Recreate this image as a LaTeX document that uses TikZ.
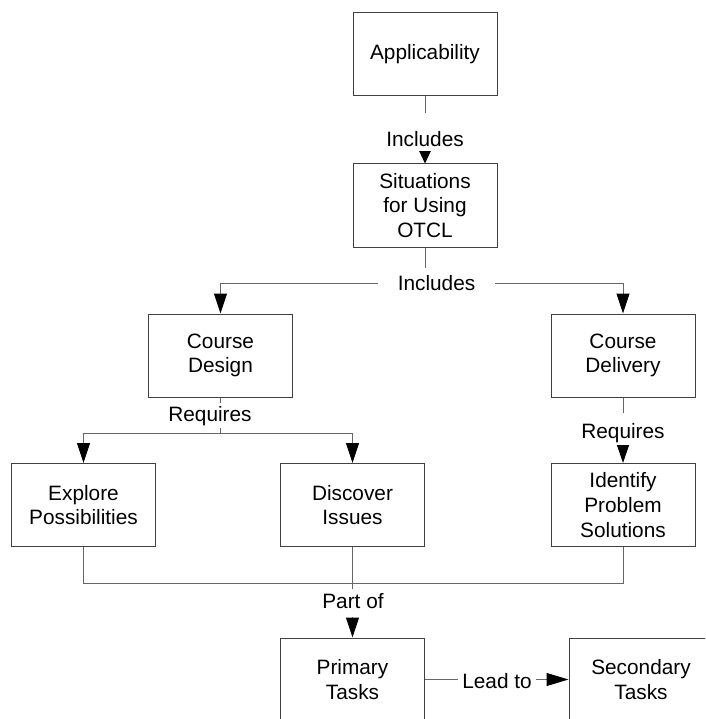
\documentclass[tikz,border=0pt]{standalone}
\usepackage{fontspec}
\setmainfont{Liberation Sans}
\usetikzlibrary{arrows.meta}
\definecolor{boxc}{gray}{0.25}
\definecolor{linec}{gray}{0.4}
\newcommand\dfont{\fontsize{20.8}{24.6}\selectfont}
\tikzset{
  box/.style={draw=boxc, line width=1pt, minimum width=144pt, minimum height=83pt,
    inner sep=0pt, align=center, font=\dfont, fill=white},
  conn/.style={draw=linec, line width=1pt},
  arr/.style={conn, -{Triangle[length=20pt,width=13pt,color=black]}},
  lbl/.style={fill=white, inner xsep=2pt, inner ysep=0pt, font=\dfont, anchor=base},
}
\begin{document}
\begin{tikzpicture}[x=1pt,y=-1pt]
\useasboundingbox (0,0) rectangle (705,719);
\clip (0,0) rectangle (705,719);
% boxes
\node[box] (app) at (425,54.5) {Applicability};
\node[box] (sit) at (425,205.5) {Situations\\for Using\\OTCL};
\node[box] (cd)  at (220.5,355.5) {Course\\Design};
\node[box] (cdl) at (623,355.5) {Course\\Delivery};
\node[box] (ex)  at (83.5,505) {Explore\\Possibilities};
\node[box] (dis) at (352.5,505) {Discover\\Issues};
\node[box] (idp) at (623,505) {Identify\\Problem\\Solutions};
\node[box] (pt)  at (352.5,679.5) {Primary\\Tasks};
\node[box] (st)  at (641,679.5) {Secondary\\Tasks};
% connectors
\draw[arr, -{Triangle[length=13pt,width=12pt,color=black]}] (app.south) -- (sit.north);
\draw[arr] (sit.south) -- ++(0,36) -| (cd.north);
\draw[arr] (sit.south) ++(0,36) -| (cdl.north);
\draw[arr] (cd.south) -- ++(0,36) -| (ex.north);
\draw[arr] (cd.south) ++(0,36) -| (dis.north);
\draw[arr, -{Triangle[length=18pt,width=12pt,color=black]}] (cdl.south) -- (idp.north);
\draw[conn] (ex.south) -- ++(0,36) -| (idp.south);
\draw[arr] (dis.south) -- (pt.north);
\draw[arr, -{Triangle[length=22pt,width=13pt,color=black]}] (pt.east) -- (st.west);
% labels
\node[lbl, text height=34pt, text depth=4pt] (l1) at (425,147) {Includes};
\node[lbl, text height=22pt, text depth=10pt, minimum width=117pt] (l2) at (436.5,290) {Includes};
\node[lbl, text height=18.5pt, text depth=6.5pt] (l3) at (210,421.5) {Requires};
\node[lbl, text height=25.5pt, text depth=6.5pt] (l4) at (623,438.5) {Requires};
\node[lbl, text height=19pt, text depth=9pt] (l5) at (353,608) {Part of};
\node[lbl, text height=16pt, text depth=2pt, minimum width=78pt] (l6) at (497,688) {Lead to};
\end{tikzpicture}
\end{document}
